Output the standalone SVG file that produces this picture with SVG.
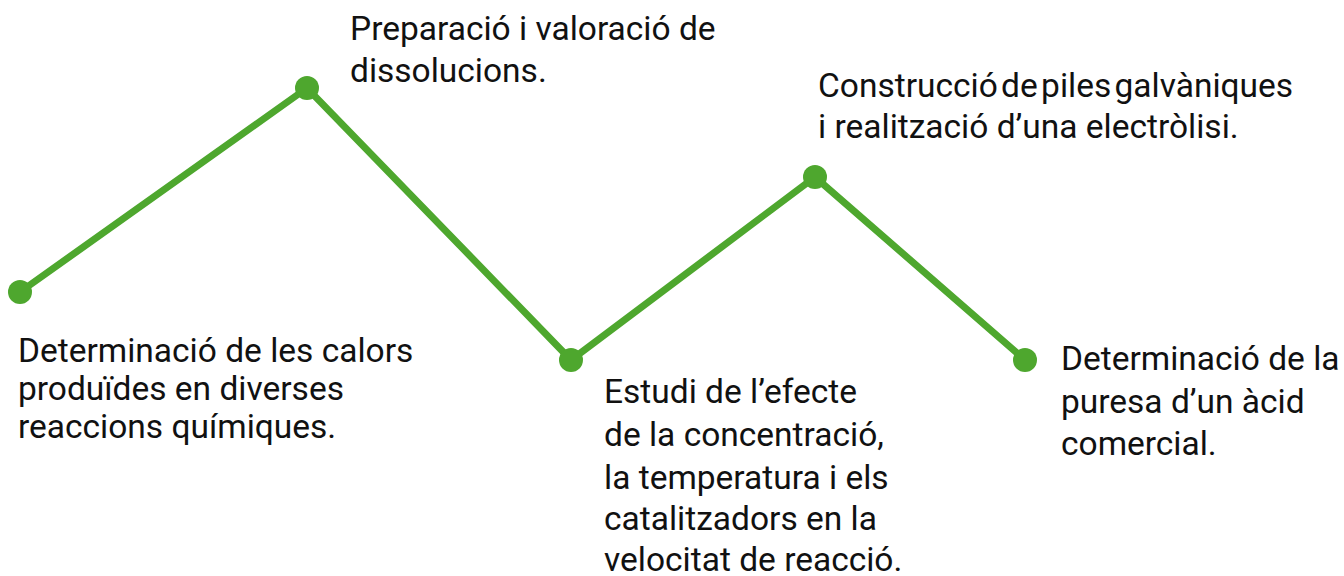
<svg xmlns="http://www.w3.org/2000/svg" width="1344" height="576" viewBox="0 0 1344 576">
<style>
.t{font-family:Roboto,"Liberation Sans",sans-serif;font-size:33.5px;fill:#111;}
.n{fill:#4ea72e;}
.c{fill:none;stroke:#4ea72e;stroke-width:7;stroke-linejoin:miter;}
</style>
<rect width="1344" height="576" fill="#fff"/>
<g id="connectors">
<polyline class="c" points="20,292 307,88 571,360 815,177 1025,360"/>
</g>
<g id="node1"><circle class="n" cx="20" cy="292" r="12"/>
<text class="t" x="18" y="362">Determinació de les calors</text>
<text class="t" x="18" y="400">produïdes en diverses</text>
<text class="t" x="18" y="438">reaccions químiques.</text></g>
<g id="node2"><circle class="n" cx="307" cy="88" r="12"/>
<text class="t" x="350" y="40">Preparació i valoració de</text>
<text class="t" x="350" y="82">dissolucions.</text></g>
<g id="node3"><circle class="n" cx="571" cy="360" r="12"/>
<text class="t" x="604" y="403">Estudi de l’efecte</text>
<text class="t" x="604" y="446">de la concentració,</text>
<text class="t" x="604" y="489">la temperatura i els</text>
<text class="t" x="604" y="530">catalitzadors en la</text>
<text class="t" x="604" y="571">velocitat de reacció.</text></g>
<g id="node4"><circle class="n" cx="815" cy="177" r="12"/>
<text class="t" x="818" y="97" word-spacing="-5">Construcció de piles galvàniques</text>
<text class="t" x="818" y="138">i realització d’una electròlisi.</text></g>
<g id="node5"><circle class="n" cx="1025" cy="360" r="12"/>
<text class="t" x="1061" y="370">Determinació de la</text>
<text class="t" x="1061" y="413">puresa d’un àcid</text>
<text class="t" x="1061" y="455">comercial.</text></g>
</svg>
